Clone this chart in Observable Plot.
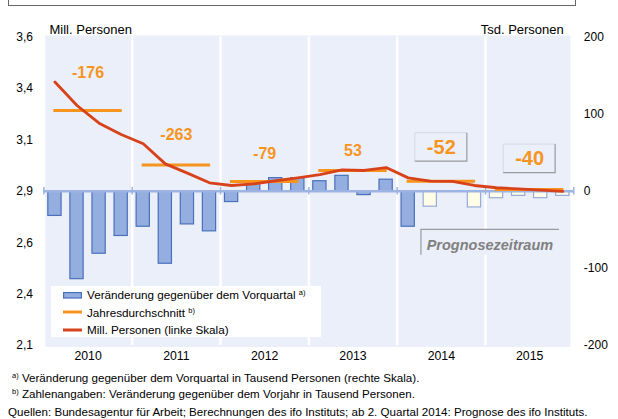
<!DOCTYPE html>
<html>
<head>
<meta charset="utf-8">
<script src="https://cdn.jsdelivr.net/npm/d3@7"></script>
<script src="https://cdn.jsdelivr.net/npm/@observablehq/plot@0.6"></script>
<style>
  html, body { margin: 0; padding: 0; background: #fff; }
  #wrap { position: relative; width: 618px; height: 419px; overflow: hidden;
          font-family: "Liberation Sans", Arial, sans-serif; color: #000; }
  #wrap svg { display: block; }
  .topbox { position: absolute; left: 8px; top: -10px; width: 566px; height: 14px;
            border: 1px solid #666; }
  .legend { position: absolute; left: 51px; top: 286px; width: 270px; height: 51px; background: #fff; }
  .li { position: absolute; left: 36px; font-size: 11.7px; line-height: 13px; white-space: nowrap; }
  .sw { position: absolute; left: 12px; }
  sup { font-size: 7.5px; vertical-align: 4px; line-height: 0; }
  .fn { position: absolute; font-size: 11.6px; line-height: 13px; white-space: nowrap; }
</style>
</head>
<body>
<div id="wrap">
  <div class="topbox"></div>
</div>
<script>
// ---------- data ----------
const years = ["2010", "2011", "2012", "2013", "2014", "2015"];
const quarterNames = ["Q1", "Q2", "Q3", "Q4"];
const quarters = years.flatMap(y => quarterNames.map(q => `${y} ${q}`));
// change vs. previous quarter, thousand persons (right scale)
const changeVsPrevQuarter = [
  -32, -114, -81, -58,
  -46,  -94, -43, -52,
  -14,   10,  17,  17,
   13,   20,  -5,  15,
  -46,  -20,   0, -21,
   -9,   -6,  -9,  -6
];
// unemployed persons, millions (left scale)
const unemployedMillions = [
  3.381, 3.267, 3.181, 3.126,
  3.081, 2.983, 2.938, 2.891,
  2.878, 2.886, 2.901, 2.915,
  2.931, 2.954, 2.951, 2.965,
  2.915, 2.899, 2.898, 2.878,
  2.867, 2.862, 2.855, 2.849
];
// annual average, millions
const annualAverage = [3.243, 2.978, 2.898, 2.951, 2.899, 2.858];
// change vs. previous year, thousand persons
const annualChange = [-176, -263, -79, 53, -52, -40];
const forecastStart = "2014 Q2";
const boxedYears = ["2014", "2015"];
const leftTicks = [2.1, 2.35, 2.6, 2.85, 3.1, 3.35, 3.6];
const leftTickLabels = ["2,1", "2,4", "2,6", "2,9", "3,1", "3,4", "3,6"];
const rightTicks = [-200, -100, 0, 100, 200];
const leftDomain = [2.1, 3.6];
const rightDomain = [-200, 200];

// ---------- derived tables ----------
const toRight = v => rightDomain[0] + (v - leftDomain[0]) / (leftDomain[1] - leftDomain[0]) * (rightDomain[1] - rightDomain[0]);
const fIdx = quarters.indexOf(forecastStart);
const qData = quarters.map((q, i) => ({
  q, i, change: changeVsPrevQuarter[i], level: toRight(unemployedMillions[i]), forecast: i >= fIdx
}));
// label lift above the annual-average line (px)
const labelLift = [-38, -30.5, -27.5, -20, -34, -31];
const yData = years.map((y, k) => ({
  y, k, avg: toRight(annualAverage[k]), change: annualChange[k],
  boxed: boxedYears.includes(y), dy: labelLift[k]
}));
const yearBounds = d3.range(years.length + 1).map(k => k * 4);

const BG = "#EBEFFA";
const ORANGE = "#F7941E";
const RED = "#D8421A";
const AXIS_BLUE = "#9DB4E2";
const prognoseBox = { x1: 17.1, x2: 23.35, y1: -50, y2: -83 };

function labelBoxes(index, scales) {
  const g = d3.create("svg:g").attr("fill", "none");
  yData.filter(d => d.boxed).forEach(d => {
    const cx = scales.x(d.k * 4 + 2), cy = scales.y(d.avg) + d.dy;
    const l = cx - 26, r = cx + 26, t = cy - 14, b = cy + 14.5;
    g.append("path").attr("d", `M${l},${b}V${t}H${r}`).attr("stroke", "#d4d8e4").attr("stroke-width", 1);
    g.append("path").attr("d", `M${r},${t}V${b}H${l}`).attr("stroke", "#9a9a9a").attr("stroke-width", 1.2);
  });
  return g.node();
}
function prognose(index, scales) {
  const g = d3.create("svg:g");
  const l = scales.x(prognoseBox.x1), r = scales.x(prognoseBox.x2);
  const t = scales.y(prognoseBox.y1), b = scales.y(prognoseBox.y2);
  g.append("rect").attr("x", l).attr("y", t).attr("width", r - l).attr("height", b - t).attr("fill", BG);
  g.append("path").attr("d", `M${l},${b}V${t}H${r}`).attr("fill", "none").attr("stroke", "#9a9a9a").attr("stroke-width", 1.2);
  g.append("text").attr("x", (l + r) / 2).attr("y", (t + b) / 2 + 2.5).attr("dy", "0.35em")
    .attr("text-anchor", "middle").attr("font-size", 14.5).attr("font-weight", "bold")
    .attr("font-style", "italic").attr("fill", "#808080").text("Prognosezeitraum");
  return g.node();
}

const chart = Plot.plot({
  width: 618,
  height: 366,
  marginLeft: 43.4,
  marginRight: 44.7,
  marginTop: 36.5,
  marginBottom: 21,
  style: { fontFamily: "'Liberation Sans', Arial, sans-serif", background: "transparent", overflow: "visible" },
  x: { domain: [0, 24], axis: null },
  y: { domain: rightDomain, axis: null },
  marks: [
    Plot.frame({ fill: BG, insetLeft: 1.5, insetRight: 3.5, insetTop: -1.5, insetBottom: -1.5 }),
    Plot.ruleX(yearBounds.slice(1, -1), { stroke: "white", strokeWidth: 2.5 }),
    prognose,
    Plot.rect(qData.filter(d => !d.forecast), {
      x1: d => d.i + 0.2, x2: d => d.i + 0.8, y1: 0, y2: "change",
      fill: "#94AEE0", stroke: "#4A70BC", strokeWidth: 1.2
    }),
    Plot.rect(qData.filter(d => d.forecast), {
      x1: d => d.i + 0.2, x2: d => d.i + 0.8, y1: 0, y2: "change",
      fill: "#FFFCE8", stroke: "#97ABD8", strokeWidth: 1.2
    }),
    Plot.ruleY([0], { stroke: AXIS_BLUE, strokeWidth: 2.5 }),
    Plot.ruleX(yearBounds, { y1: -5, y2: 5, stroke: AXIS_BLUE, strokeWidth: 1.5 }),
    Plot.ruleY(yData, { y: "avg", x1: d => d.k * 4 + 0.45, x2: d => d.k * 4 + 3.55, stroke: ORANGE, strokeWidth: 3 }),
    Plot.line(qData, { x: d => d.i + 0.5, y: "level", stroke: RED, strokeWidth: 2.8 }),
    Plot.text(yData.filter(d => !d.boxed), {
      x: d => d.k * 4 + 2, y: "avg", text: d => String(d.change),
      fill: ORANGE, fontWeight: "bold", fontSize: 16
    }),
    labelBoxes,
    Plot.text(yData.filter(d => d.boxed), {
      x: d => d.k * 4 + 2, y: "avg", text: d => String(d.change),
      fill: ORANGE, fontWeight: "bold", fontSize: 20
    }),
    // axes
    Plot.text(leftTicks, { y: d => toRight(d), text: (d, i) => leftTickLabels[i], frameAnchor: "left", textAnchor: "end", dx: -11, fontSize: 12, fill: "#000" }),
    Plot.text(rightTicks, { y: d => d, text: d => String(d), frameAnchor: "right", textAnchor: "start", dx: 10, fontSize: 12, fill: "#000" }),
    Plot.text(yData, { x: d => d.k * 4 + 2, y: rightDomain[0], dy: 11, text: "y", fontSize: 12.3, fill: "#000" }),
    Plot.text(["Mill. Personen"], { frameAnchor: "top-left", textAnchor: "start", dx: 5.6, dy: -12, fontSize: 13, fill: "#000" }),
    Plot.text(["Tsd. Personen"], { frameAnchor: "top-right", textAnchor: "end", dx: -10, dy: -12, fontSize: 13, fill: "#000" })
  ]
});

const wrap = document.getElementById("wrap");
wrap.appendChild(chart);
</script>
<script>
// shift the annual-change labels by their per-year lift
(function () {
  const svg = document.querySelector("#wrap svg");
  const groups = svg.querySelectorAll("g[aria-label='text']");
  const nonBoxed = yData.filter(d => !d.boxed), boxed = yData.filter(d => d.boxed);
  [[groups[0], nonBoxed], [groups[1], boxed]].forEach(([g, arr]) => {
    if (!g) return;
    g.querySelectorAll("text").forEach((t, i) => {
      t.setAttribute("transform", `translate(0,${arr[i].dy})` + (t.getAttribute("transform") ? " " + t.getAttribute("transform") : ""));
    });
  });
})();
</script>
<script>
// legend and footnotes
(function () {
  const wrap = document.getElementById("wrap");
  const lg = document.createElement("div");
  lg.className = "legend";
  lg.innerHTML = `
    <svg class="sw" style="top:6px" width="20" height="7"><rect x="0.6" y="0.6" width="17.8" height="5.4" fill="#94AEE0" stroke="#4A70BC" stroke-width="1.2"/></svg>
    <div class="li" style="top:2px">Veränderung gegenüber dem Vorquartal <sup>a)</sup></div>
    <svg class="sw" style="top:24px" width="20" height="4"><line x1="0" x2="19" y1="2" y2="2" stroke="${ORANGE}" stroke-width="3"/></svg>
    <div class="li" style="top:19.5px">Jahresdurchschnitt <sup>b)</sup></div>
    <svg class="sw" style="top:41.5px" width="20" height="4"><line x1="0" x2="19" y1="2" y2="2" stroke="${RED}" stroke-width="3"/></svg>
    <div class="li" style="top:37px">Mill. Personen (linke Skala)</div>`;
  wrap.appendChild(lg);
  const notes = [
    { top: 370.5, left: 12, html: "<sup>a)</sup> Veränderung gegenüber dem Vorquartal in Tausend Personen (rechte Skala)." },
    { top: 386.5, left: 12, html: "<sup>b)</sup> Zahlenangaben: Veränderung gegenüber dem Vorjahr in Tausend Personen." },
    { top: 404.5, left: 8, html: "Quellen: Bundesagentur für Arbeit; Berechnungen des ifo Instituts; ab 2. Quartal 2014: Prognose des ifo Instituts." }
  ];
  notes.forEach(n => {
    const d = document.createElement("div");
    d.className = "fn";
    d.style.top = n.top + "px";
    d.style.left = n.left + "px";
    d.innerHTML = n.html;
    wrap.appendChild(d);
  });
})();
</script>
</body>
</html>
